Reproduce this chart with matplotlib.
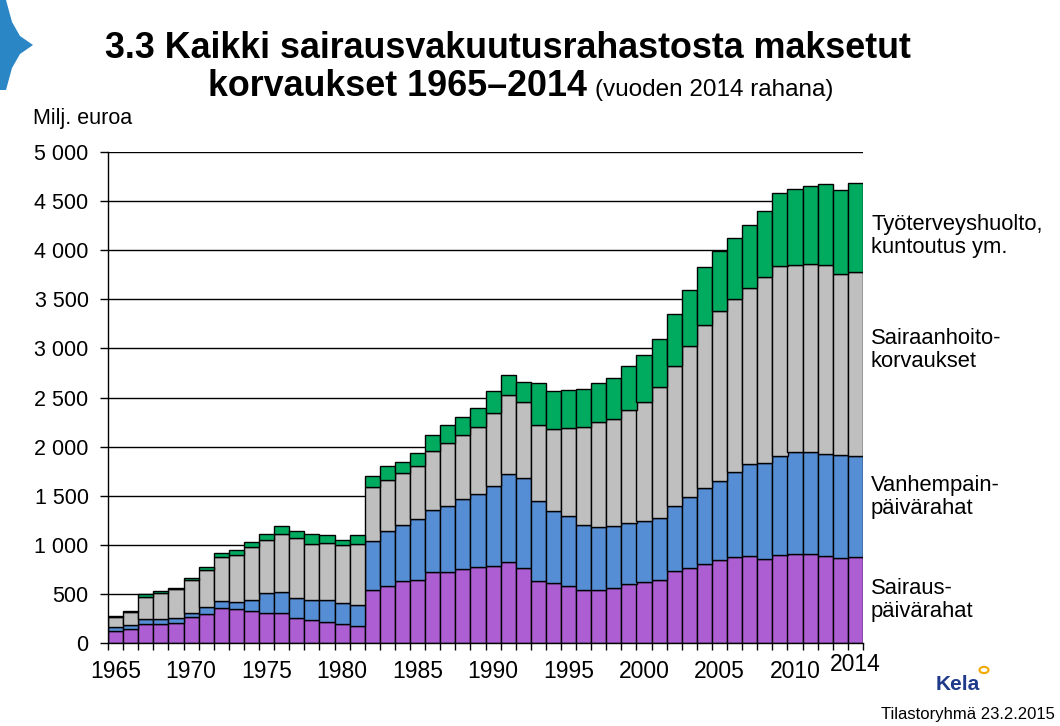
import matplotlib
matplotlib.use("Agg")
import matplotlib.pyplot as plt
import matplotlib.transforms as mtransforms
from matplotlib.patches import Polygon, Circle
import numpy as np

plt.rcParams['font.family'] = ['Liberation Sans', 'DejaVu Sans']

years = list(range(1965, 2015))

# Millions of euros (2014 money)
sairauspaivarahat = [119, 143, 194, 194, 204, 265, 296, 357, 347, 326,
                     306, 306, 255, 235, 214, 194, 173, 538, 577, 628,
                     638, 720, 720, 750, 771, 781, 822, 760, 628, 608,
                     577, 536, 536, 557, 598, 618, 639, 730, 761, 802,
                     842, 873, 883, 853, 893, 904, 904, 883, 863, 873]
vanhempainpaivarahat = [44, 41, 51, 51, 51, 45, 71, 72, 71, 113,
                        204, 214, 204, 204, 225, 214, 215, 500, 560, 570,
                        622, 631, 672, 713, 743, 815, 896, 917, 815, 733,
                        713, 662, 641, 630, 628, 629, 638, 663, 723, 774,
                        806, 866, 938, 978, 1009, 1039, 1039, 1040, 1050, 1029]
sairaanhoitokorvaukset = [99, 132, 224, 265, 296, 333, 378, 448, 480, 541,
                          541, 592, 612, 571, 581, 592, 622, 550, 520, 530,
                          539, 601, 642, 652, 683, 743, 804, 774, 774, 835,
                          896, 999, 1071, 1091, 1145, 1206, 1329, 1427, 1539, 1661,
                          1732, 1763, 1793, 1896, 1937, 1906, 1916, 1926, 1844, 1876]
tyoterveyshuolto = [13, 14, 26, 21, 10, 20, 30, 41, 44, 50,
                    61, 82, 72, 102, 82, 51, 92, 112, 142, 112,
                    133, 163, 183, 183, 193, 224, 204, 204, 428, 387,
                    387, 387, 397, 418, 449, 479, 489, 529, 571, 591,
                    611, 622, 642, 672, 744, 774, 795, 825, 856, 906]

series = [sairauspaivarahat, vanhempainpaivarahat, sairaanhoitokorvaukset, tyoterveyshuolto]
colors = ['#AD5ED2', '#558ED5', '#BFBFBF', '#00AB5F']
series_labels = ['Sairaus-\npäivärahat', 'Vanhempain-\npäivärahat',
                 'Sairaanhoito-\nkorvaukset', 'Työterveyshuolto,\nkuntoutus ym.']
label_y = [600, 497, 350, 236]  # pixel rows of the right-side labels

xtick_years = [1965, 1970, 1975, 1980, 1985, 1990, 1995, 2000, 2005, 2010, 2014]
yticks = [0, 500, 1000, 1500, 2000, 2500, 3000, 3500, 4000, 4500, 5000]

W, H = 1060, 726
fig = plt.figure(figsize=(W / 100, H / 100), dpi=100)
ax = fig.add_axes([108 / W, 1 - 643 / H, 755 / W, 491 / H])

x = np.arange(len(years))
bottom = np.zeros(len(years))
for vals, col in zip(series, colors):
    ax.bar(x, vals, width=1.0, bottom=bottom, color=col, edgecolor='black',
           linewidth=1.0, zorder=3)
    bottom += np.array(vals)

ax.set_xlim(-0.5, len(years) - 0.5)
ax.set_ylim(0, 5000)
ax.set_yticks(yticks)
ax.set_yticklabels([f"{v:,}".replace(",", " ") for v in yticks])
ax.yaxis.grid(True, color='black', linewidth=1.0, zorder=0)
ax.set_axisbelow(True)

ax.set_xticks([years.index(y) for y in xtick_years])
ax.set_xticklabels([str(y) for y in xtick_years])
ax.set_xticks(np.arange(len(years) + 1) - 0.5, minor=True)
ax.tick_params(axis='x', which='major', length=0, pad=12, labelsize=16.5)
ax.tick_params(axis='x', which='minor', length=5, width=1.0, direction='out', color='black')
ax.tick_params(axis='y', length=6, width=1.0, pad=8, labelsize=15.5)

for sp in ['top', 'right']:
    ax.spines[sp].set_visible(False)
for sp in ['left', 'bottom']:
    ax.spines[sp].set_linewidth(1.0)
    ax.spines[sp].set_zorder(4)

# raise the last x label slightly, as in the original
lab = ax.get_xticklabels()[-1]
lab.set_transform(lab.get_transform() + mtransforms.ScaledTranslation(0, 7 / 100, fig.dpi_scale_trans))

# right-side series labels
for txt, yp in zip(series_labels, label_y):
    fig.text(871 / W, 1 - yp / H, txt, ha='left', va='center', fontsize=15.8,
             linespacing=1.12)

# title
fig.text(508 / W, 1 - 58 / H, "3.3 Kaikki sairausvakuutusrahastosta maksetut",
         ha='center', va='baseline', fontsize=25.8, fontweight='bold')
fig.text(208 / W, 1 - 96 / H, "korvaukset 1965–2014", ha='left', va='baseline',
         fontsize=25.8, fontweight='bold')
fig.text(595 / W, 1 - 96 / H, "(vuoden 2014 rahana)", ha='left', va='baseline', fontsize=17.5)

fig.text(33 / W, 1 - 124 / H, "Milj. euroa", ha='left', va='baseline', fontsize=15.5)

# decorative blue arrow at top-left
arrow = Polygon([(0 / W, 1 - 0 / H), (6 / W, 1 - 0 / H), (12 / W, 1 - 22 / H), (20 / W, 1 - 36 / H),
                 (33 / W, 1 - 45 / H), (20 / W, 1 - 54 / H), (12 / W, 1 - 68 / H),
                 (6 / W, 1 - 90 / H), (0 / W, 1 - 90 / H)],
                closed=True, transform=fig.transFigure, facecolor='#2A86C5', edgecolor='none')
fig.patches.append(arrow)

# Kela logo and footer
fig.text(958 / W, 1 - 684 / H, "Kela", ha='center', va='center', fontsize=15,
         fontweight='bold', color='#1F3A8A')
circ = Circle((984 / W, 1 - 670 / H), 4.5 / W, transform=fig.transFigure,
              facecolor='white', edgecolor='#F2A900', linewidth=1.5)
fig.patches.append(circ)
fig.text(1055 / W, 1 - 714 / H, "Tilastoryhmä 23.2.2015", ha='right', va='center', fontsize=12)

fig.savefig("out.png", dpi=100)
